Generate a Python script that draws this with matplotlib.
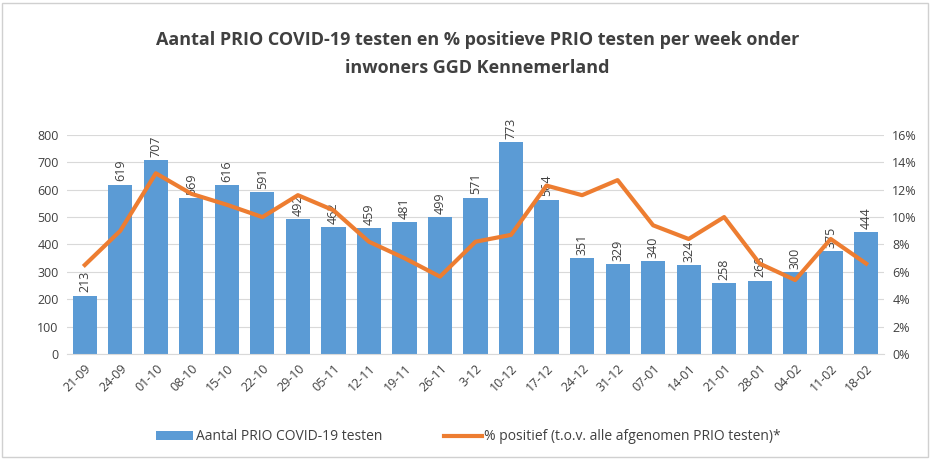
import matplotlib.pyplot as plt
from matplotlib.patches import Rectangle

plt.rcParams['font.family'] = ['Open Sans', 'DejaVu Sans']

weeks = ['21-09', '24-09', '01-10', '08-10', '15-10', '22-10', '29-10', '05-11',
         '12-11', '19-11', '26-11', '3-12', '10-12', '17-12', '24-12', '31-12',
         '07-01', '14-01', '21-01', '28-01', '04-02', '11-02', '18-02']
testen = [213, 619, 707, 569, 616, 591, 492, 462, 459, 481, 499, 571, 773, 564,
          351, 329, 340, 324, 258, 268, 300, 375, 444]
pct_positief = [6.5, 9.0, 13.2, 11.7, 10.9, 10.0, 11.6, 10.5, 8.2, 7.0, 5.65, 8.2,
                8.7, 12.3, 11.6, 12.7, 9.4, 8.4, 10.0, 6.6, 5.4, 8.4, 6.6]

blue = '#5B9BD5'
orange = '#ED7D31'
txt = '#404040'

fig = plt.figure(figsize=(9.31, 4.59), dpi=100)
ax = fig.add_axes([0.072, 0.2288, 0.8775, 0.4772])
ax2 = ax.twinx()

x = range(len(weeks))
bars = ax.bar(x, testen, width=0.68, color=blue, zorder=2,
              label='Aantal PRIO COVID-19 testen')
for xi, v in zip(x, testen):
    ax.text(xi, v + 12, str(v), rotation=90, ha='center', va='bottom',
            fontsize=9, color=txt, zorder=3)

line, = ax2.plot(x, pct_positief, color=orange, lw=3, zorder=4,
                 label='% positief (t.o.v. alle afgenomen PRIO testen)*')

ax.set_ylim(0, 800)
ax.set_yticks(range(0, 801, 100))
ax.set_xlim(-0.5, len(weeks) - 0.5)
ax.set_xticks(list(x))
ax.set_xticklabels(weeks, rotation=45, ha='right', rotation_mode='anchor')
ax.grid(axis='y', color='#d9d9d9', lw=0.8, zorder=0)

ax2.set_ylim(0, 16)
ax2.set_yticks(range(0, 17, 2))
ax2.set_yticklabels([f'{v}%' for v in range(0, 17, 2)])

for a in (ax, ax2):
    for s in a.spines.values():
        s.set_visible(False)
    a.tick_params(length=0, labelsize=9, colors=txt, pad=6)
ax.spines['bottom'].set_visible(True)
ax.spines['bottom'].set_color('#d9d9d9')
ax2.set_zorder(ax.get_zorder() + 1)
ax.patch.set_visible(False)

fig.text(0.513, 0.912, 'Aantal PRIO COVID-19 testen en % positieve PRIO testen per week onder',
         ha='center', va='center', fontsize=13, fontweight='bold', color=txt)
fig.text(0.513, 0.852, 'inwoners GGD Kennemerland',
         ha='center', va='center', fontsize=13, fontweight='bold', color=txt)

fig.legend([bars, line], [bars.get_label(), line.get_label()],
           loc='center', bbox_to_anchor=(0.503, 0.048), ncol=2, frameon=False,
           fontsize=10, handlelength=2.7, handletextpad=0.15, columnspacing=4.5,
           labelcolor=txt)

fig.patches.append(Rectangle((0.002, 0.004), 0.995, 0.99, transform=fig.transFigure,
                             fill=False, edgecolor='#d0d0d0', lw=1))

fig.savefig('out.png', dpi=100)
